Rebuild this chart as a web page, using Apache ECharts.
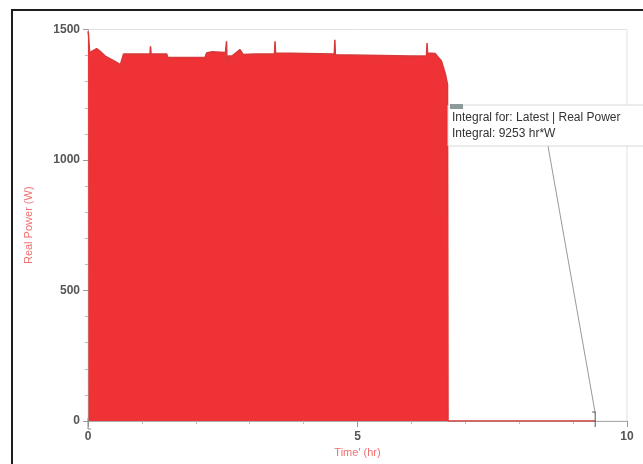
<!DOCTYPE html>
<html>
<head>
<meta charset="utf-8">
<script src="https://cdn.jsdelivr.net/npm/echarts@6/dist/echarts.min.js"></script>
<style>
html,body{margin:0;padding:0;background:#fff;}
#chart{width:643px;height:464px;}
</style>
</head>
<body>
<div id="chart"></div>
<script>
// Time (hr) and Real Power (W)
const timeHr = [0, 0.01, 0.03, 0.16, 0.22, 0.32, 0.5, 0.6, 0.63, 0.66, 1.15, 1.16, 1.17, 1.18, 1.46, 1.48, 2.17, 2.2, 2.3, 2.55, 2.57, 2.58, 2.6, 2.67, 2.82, 2.88, 3.1, 3.46, 3.47, 3.48, 4.57, 4.58, 4.59, 6.0, 6.28, 6.29, 6.3, 6.44, 6.56, 6.63, 6.67, 6.68, 7.5, 8.5, 9.41];
const realPowerW = [1493, 1480, 1411, 1427, 1417, 1398, 1378, 1365, 1362, 1406, 1406, 1436, 1406, 1406, 1406, 1393, 1393, 1410, 1415, 1412, 1455, 1373, 1398, 1398, 1423, 1404, 1406, 1406, 1455, 1410, 1406, 1461, 1403, 1398, 1398, 1448, 1410, 1408, 1378, 1330, 1290, 0, 0, 0, 0];
const xTicks = [0, 5, 10];
const yTicks = [0, 500, 1000, 1500];
const integralStart = 0;
const integralEnd = 9.41;
const annotationLines = ['Integral for: Latest | Real Power', 'Integral: 9253 hr*W'];

const chart = echarts.init(document.getElementById('chart'));
const data = timeHr.map((t, i) => [t, realPowerW[i]]);
const FONT = 'Liberation Sans, Arial, sans-serif';

chart.setOption({
  animation: false,
  backgroundColor: '#fff',
  textStyle: { fontFamily: FONT },
  grid: { left: 88, right: 16, top: 29.5, bottom: 43, show: true, borderColor: '#e2e2e2', borderWidth: 1 },
  xAxis: {
    type: 'value', min: xTicks[0], max: xTicks[xTicks.length - 1], interval: 5,
    name: "Time' (hr)", nameLocation: 'middle', nameGap: 26,
    nameTextStyle: { color: '#f07070', fontSize: 11, fontFamily: FONT },
    axisLine: { show: true, lineStyle: { color: '#aaa' } },
    axisTick: { show: true, length: 6, lineStyle: { color: '#999' } },
    minorTick: { show: true, splitNumber: 5, length: 3, lineStyle: { color: '#bbb' } },
    splitLine: { show: false },
    axisLabel: { color: '#555', fontSize: 12, fontWeight: 'bold', margin: 10, fontFamily: FONT, formatter: v => String(v) }
  },
  yAxis: {
    type: 'value', min: yTicks[0], max: yTicks[yTicks.length - 1], interval: 500,
    name: 'Real Power (W)', nameLocation: 'middle', nameGap: 54,
    nameTextStyle: { color: '#f07070', fontSize: 11, fontFamily: FONT, padding: [0, 0, 0, 0] },
    axisLine: { show: true, lineStyle: { color: '#aaa' } },
    axisTick: { show: true, length: 5, lineStyle: { color: '#999' } },
    minorTick: { show: true, splitNumber: 5, length: 3, lineStyle: { color: '#bbb' } },
    splitLine: { show: false },
    axisLabel: { color: '#555', fontSize: 12, fontWeight: 'bold', margin: 8, fontFamily: FONT, formatter: v => String(v) }
  },
  series: [{
    type: 'line',
    data: data,
    showSymbol: false,
    symbol: 'none',
    lineStyle: { color: '#d63a3a', width: 1.5 },
    areaStyle: { color: '#ee3236', opacity: 1 },
    z: 3
  }]
});

function build() {
  const pEnd = chart.convertToPixel({ gridIndex: 0 }, [integralEnd, 0]);
  const pStart = chart.convertToPixel({ gridIndex: 0 }, [integralStart, 0]);
  const boxX = 448, boxY = 105, boxW = 200, boxH = 41;
  chart.setOption({
    graphic: [
      { type: 'rect', shape: { x: 12, y: 10, width: 700, height: 500 }, style: { fill: 'none', stroke: '#1d1d1d', lineWidth: 2 }, z: 100, silent: true },
      { type: 'line', shape: { x1: 548, y1: boxY + boxH, x2: pEnd[0], y2: pEnd[1] - 8 }, style: { stroke: '#999', lineWidth: 1 }, z: 50 },
      { type: 'polyline', shape: { points: [[pEnd[0] - 3, pEnd[1] - 9], [pEnd[0], pEnd[1] - 9], [pEnd[0], pEnd[1] + 6]] }, style: { stroke: '#555', lineWidth: 1, fill: 'none' }, z: 50 },
      { type: 'polyline', shape: { points: [[pStart[0], pStart[1] - 3], [pStart[0], pStart[1] + 8], [pStart[0] + 3, pStart[1] + 8]] }, style: { stroke: '#888', lineWidth: 1, fill: 'none' }, z: 50 },
      { type: 'rect', shape: { x: boxX, y: boxY, width: boxW, height: boxH }, style: { fill: 'rgba(255,255,255,0.95)', stroke: '#d8d8d8', lineWidth: 1 }, z: 60 },
      { type: 'rect', shape: { x: boxX + 2, y: boxY - 1, width: 13, height: 5 }, style: { fill: '#8c9a9a' }, z: 61 },
      { type: 'text', x: boxX + 4, y: boxY + 13, style: { text: annotationLines[0], fill: '#333', font: '12px ' + FONT, verticalAlign: 'middle' }, z: 61 },
      { type: 'text', x: boxX + 4, y: boxY + 29, style: { text: annotationLines[1], fill: '#333', font: '12px ' + FONT, verticalAlign: 'middle' }, z: 61 }
    ]
  });
}
build();
</script>
</body>
</html>
